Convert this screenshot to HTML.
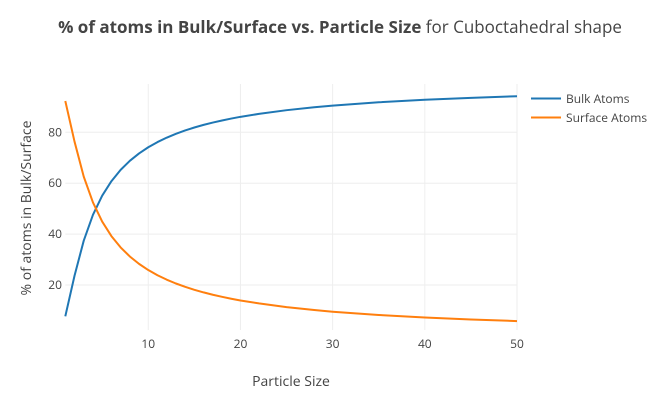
<!DOCTYPE html>
<html><head><meta charset="utf-8"><style>
body{margin:0;background:#fff;}
svg{font-family:"Open Sans","Liberation Sans",sans-serif;}
</style></head><body>
<svg width="666" height="409" id="c">
<text x="340" y="33" text-anchor="middle" font-size="17" fill="#444"><tspan font-weight="bold">% of atoms in Bulk/Surface vs. Particle Size</tspan> for Cuboctahedral shape</text>
<g id="grid"></g>
<g id="lines"></g>
<g id="ticks" font-size="12" fill="#444"></g>
<text x="291" y="386" text-anchor="middle" font-size="14" fill="#444">Particle Size</text>
<text transform="translate(31,208) rotate(-90)" text-anchor="middle" font-size="14" fill="#444">% of atoms in Bulk/Surface</text>
<g>
<g><line x1="531" y1="98.5" x2="561" y2="98.5" stroke="#1f77b4" stroke-width="2"/><text x="566" y="103" font-size="12" fill="#444">Bulk Atoms</text></g>
<g><line x1="531" y1="117.5" x2="561" y2="117.5" stroke="#ff7f0e" stroke-width="2"/><text x="566" y="122" font-size="12" fill="#444">Surface Atoms</text></g>
</g>
</svg>
<script>
const sizes=[1,2,3,4,5,6,7,8,9,10,11,12,13,14,15,16,17,18,19,20,22,25,28,30,35,40,45,50];
const surface=[92.31,76.36,62.59,52.43,44.92,39.22,34.77,31.21,28.30,25.88,23.84,22.10,20.59,19.27,18.12,17.09,16.17,15.35,14.60,13.92,12.77,11.31,10.17,9.51,8.21,7.22,6.45,5.82];
const bulk=[7.69,23.64,37.41,47.57,55.08,60.78,65.23,68.79,71.70,74.12,76.16,77.90,79.41,80.73,81.88,82.91,83.83,84.65,85.40,86.08,87.23,88.69,89.83,90.49,91.79,92.78,93.55,94.18];
const xTicks=[10,20,30,40,50];
const yTicks=[20,40,60,80];
const X0=65.3,X1=517,Y0=84,Y1=330;
const xs=v=>X0+(v-1)*(X1-X0)/49;
const ys=v=>335.9-v*2.545;
const NS='http://www.w3.org/2000/svg';
const g=document.getElementById('grid'),t=document.getElementById('ticks'),L=document.getElementById('lines');
function mk(tag,attrs,parent){const e=document.createElementNS(NS,tag);for(const k in attrs)e.setAttribute(k,attrs[k]);parent.appendChild(e);return e;}
xTicks.forEach(v=>{
  const l=mk('line',{x1:xs(v),x2:xs(v),y1:Y0,y2:Y1,stroke:'#eee','stroke-width':1},g);
  
  
  const tx=mk('text',{x:xs(v),y:348,'text-anchor':'middle'},t);tx.textContent=v;
  
  
});
yTicks.forEach(v=>{
  const l=mk('line',{x1:X0,x2:X1,y1:ys(v),y2:ys(v),stroke:'#eee','stroke-width':1},g);
  
  
  const tx=mk('text',{x:62,y:ys(v)+4,'text-anchor':'end'},t);tx.textContent=v;
  
  
});
function line(arr,color,name){
  const p=mk('polyline',{points:sizes.map((s,i)=>xs(s)+','+ys(arr[i])).join(' '),fill:'none',stroke:color,'stroke-width':2,'stroke-linejoin':'round'},L);
  
  
}
line(bulk,'#1f77b4','bulk-atoms-line');
line(surface,'#ff7f0e','surface-atoms-line');
</script>
</body></html>
